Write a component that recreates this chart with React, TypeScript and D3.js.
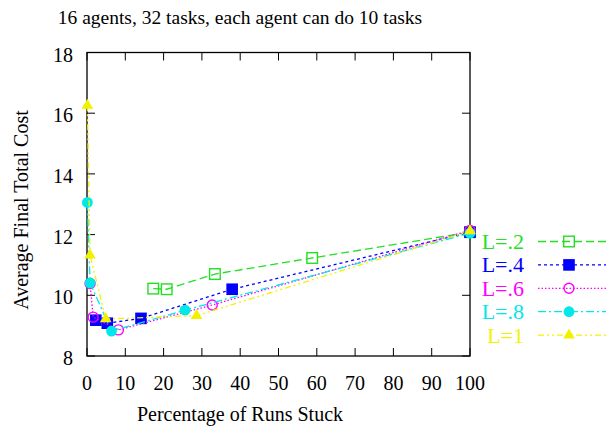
import React from "react";
import * as d3 from "d3";

const seriesNames = ["L=.2", "L=.4", "L=.6", "L=.8", "L=1"];
const seriesColors = ["#22e022", "#0000ff", "#ff00ff", "#00e8e8", "#f2f200"];
const seriesDash = ["8,4", "3,3", "1.5,2", "8,3,2,3", "6,3,2,3,2,3"];
const seriesMarker = ["squareOpen", "squareFilled", "circleOpen", "circleFilled", "triangleFilled"];

const xL2 = [17.3, 20.8, 33.4, 58.8, 100];
const yL2 = [10.22, 10.2, 10.7, 11.23, 12.08];
const xL4 = [2.3, 5.3, 14.1, 37.9, 100];
const yL4 = [9.18, 9.08, 9.24, 10.2, 12.08];
const xL6 = [0.8, 1.6, 8.2, 32.7, 100];
const yL6 = [10.39, 9.28, 8.86, 9.68, 12.14];
const xL8 = [0.1, 0.8, 6.4, 25.6, 100];
const yL8 = [13.06, 10.41, 8.82, 9.51, 12.05];
const xL1 = [0.1, 0.8, 4.9, 28.6, 100];
const yL1 = [16.26, 11.32, 9.22, 9.33, 12.12];

const seriesX = [xL2, xL4, xL6, xL8, xL1];
const seriesY = [yL2, yL4, yL6, yL8, yL1];

const xTicks = [0, 10, 20, 30, 40, 50, 60, 70, 80, 90, 100];
const yTicks = [8, 10, 12, 14, 16, 18];

const titleText = "16 agents, 32 tasks, each agent can do 10 tasks";
const xLabel = "Percentage of Runs Stuck";
const yLabel = "Average Final Total Cost";

const W = 607;
const H = 429;
const left = 87;
const right = 470;
const top = 52.5;
const bottom = 356;
const font = "'Liberation Serif', 'DejaVu Serif', serif";

function Marker({ kind, x, y, color }: { kind: string; x: number; y: number; color: string }) {
  switch (kind) {
    case "squareOpen":
      return <rect x={x - 5.3} y={y - 5.3} width={10.6} height={10.6} fill="none" stroke={color} strokeWidth={1.4} />;
    case "squareFilled":
      return <rect x={x - 5.8} y={y - 5.8} width={11.6} height={11.6} fill={color} />;
    case "circleOpen":
      return <circle cx={x} cy={y} r={5} fill="none" stroke={color} strokeWidth={1.4} />;
    case "circleFilled":
      return <circle cx={x} cy={y} r={5.4} fill={color} />;
    default: {
      const p = d3.symbol().type(d3.symbolTriangle).size(58)();
      return <path d={p || ""} transform={`translate(${x},${y})`} fill={color} />;
    }
  }
}

export default function App() {
  const xs = d3.scaleLinear().domain([0, 100]).range([left, right]);
  const ys = d3.scaleLinear().domain([8, 18]).range([bottom, top]);
  const line = d3.line<[number, number]>().x((d) => xs(d[0])).y((d) => ys(d[1]));
  const tick = 8;
  const legendY0 = 241.5;
  const legendDy = 23.4;

  return (
    <svg width={W} height={H} style={{ display: "block", position: "absolute", left: 0, top: 0 }}>
      <rect width={W} height={H} fill="white" />
      <text x={240} y={24} textAnchor="middle" fontFamily={font} fontSize={19.5}>{titleText}</text>

      {xTicks.map((t) => (
        <g key={"x" + t}>
          <line x1={xs(t)} x2={xs(t)} y1={bottom} y2={bottom - tick} stroke="black" />
          <line x1={xs(t)} x2={xs(t)} y1={top} y2={top + tick} stroke="black" />
          <text x={xs(t)} y={390} textAnchor="middle" fontFamily={font} fontSize={20}>{t}</text>
        </g>
      ))}
      {yTicks.map((t) => (
        <g key={"y" + t}>
          <line x1={left} x2={left + tick} y1={ys(t)} y2={ys(t)} stroke="black" />
          <line x1={right} x2={right - tick} y1={ys(t)} y2={ys(t)} stroke="black" />
          <text x={73} y={ys(t) + 9} textAnchor="end" fontFamily={font} fontSize={20}>{t}</text>
        </g>
      ))}
      <rect x={left} y={top} width={right - left} height={bottom - top} fill="none" stroke="black" strokeWidth={1.3} />

      <text x={240} y={421} textAnchor="middle" fontFamily={font} fontSize={20}>{xLabel}</text>
      <text transform={`translate(28,210) rotate(-90)`} textAnchor="middle" fontFamily={font} fontSize={20}>{yLabel}</text>

      {seriesNames.map((name, i) => {
        const pts: [number, number][] = seriesX[i].map((x, j) => [x, seriesY[i][j]]);
        return (
          <g key={name}>
            <path d={line(pts) || ""} fill="none" stroke={seriesColors[i]} strokeWidth={1.3} strokeDasharray={seriesDash[i]} />
            {pts.map((p, j) => (
              <Marker key={j} kind={seriesMarker[i]} x={xs(p[0])} y={ys(p[1])} color={seriesColors[i]} />
            ))}
          </g>
        );
      })}

      {seriesNames.map((name, i) => {
        const y = legendY0 + i * legendDy;
        return (
          <g key={"leg" + name}>
            <text x={524} y={y + 7.5} textAnchor="end" fontFamily={font} fontSize={22} fill={seriesColors[i]}>{name}</text>
            <line x1={538} x2={606} y1={y} y2={y} stroke={seriesColors[i]} strokeWidth={1.3} strokeDasharray={seriesDash[i]} />
            <Marker kind={seriesMarker[i]} x={569} y={y} color={seriesColors[i]} />
          </g>
        );
      })}
    </svg>
  );
}
